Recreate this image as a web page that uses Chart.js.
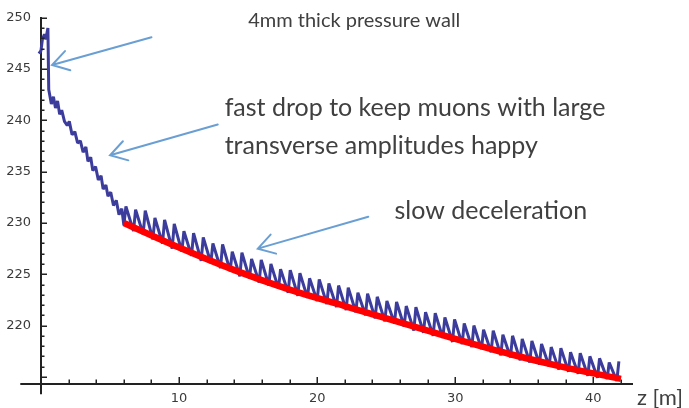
<!DOCTYPE html>
<html lang="en">
<head>
<meta charset="UTF-8" />
<title>Muon deceleration along z</title>
<script src="https://cdn.jsdelivr.net/npm/chart.js"></script>
<style>
  html, body { margin: 0; padding: 0; background: #fff; }
  #wrap { width: 689px; height: 408px; }
</style>
</head>
<body>
<div id="wrap"><canvas id="chart" width="689" height="408"></canvas></div>
<script>
  // simulated momentum (blue, with oscillation)
  const blueZ = [
    -0.8, -0.6, -0.45, -0.3, -0.15, 0.0, 0.1, 0.25, 0.35, 0.5, 0.56,
    0.75, 0.9, 1.05, 1.2, 1.35, 1.5, 1.7, 1.9, 2.05, 2.25, 2.45, 2.65, 2.85,
    3.05, 3.25, 3.4, 3.6, 3.75, 3.95, 4.15, 4.35, 4.5, 4.7, 4.85, 5.05, 5.25,
    5.45, 5.65, 5.85,
    6.0, 6.15, 6.7, 6.85, 7.4, 7.55, 8.1, 8.25, 8.8, 8.95, 9.5, 9.65,
    10.2, 10.35, 10.9, 11.05, 11.6, 11.75, 12.3, 12.45, 13.0, 13.15, 13.7, 13.85,
    14.4, 14.55, 15.1, 15.25, 15.8, 15.95, 16.5, 16.65, 17.2, 17.35, 17.9, 18.05,
    18.6, 18.75, 19.3, 19.45, 20.0, 20.15, 20.7, 20.85, 21.4, 21.55, 22.1, 22.25,
    22.8, 22.95, 23.5, 23.65, 24.2, 24.35, 24.9, 25.05, 25.6, 25.75, 26.3, 26.45,
    27.0, 27.15, 27.7, 27.85, 28.4, 28.55, 29.1, 29.25, 29.8, 29.95, 30.5, 30.65,
    31.2, 31.35, 31.9, 32.05, 32.6, 32.75, 33.3, 33.45, 34.0, 34.15, 34.7, 34.85,
    35.4, 35.55, 36.1, 36.25, 36.8, 36.95, 37.5, 37.65, 38.2, 38.35, 38.9, 39.05,
    39.6, 39.75, 40.3, 40.45, 41.0, 41.15, 41.7, 41.85
  ];
  const blueV = [
    248.3, 247.4, 246.0, 245.6, 246.5, 246.8, 247.9, 248.4, 247.9, 249.0, 243.0,
    241.6, 242.3, 241.2, 241.9, 240.6, 241.0, 239.9, 239.5, 239.9, 238.6, 238.9, 237.8, 238.0,
    236.9, 237.4, 236.0, 236.4, 235.1, 235.5, 234.2, 234.6, 233.3, 233.7, 232.6, 233.0, 231.7,
    232.2, 230.8, 231.4,
    229.8, 231.6, 229.2, 231.3, 228.9, 231.2, 228.4, 230.5, 228.0, 230.3, 227.5, 229.9,
    227.2, 229.2, 226.8, 229.0, 226.3, 228.6, 226.1, 228.0, 225.6, 227.9, 225.3, 227.2,
    224.8, 227.1, 224.6, 226.5, 224.2, 226.4, 223.9, 226.0, 223.6, 225.5, 223.2, 225.4,
    222.9, 225.1, 222.7, 224.6, 222.4, 224.5, 222.1, 224.1, 221.8, 223.9, 221.5, 223.7,
    221.3, 223.2, 221.0, 223.1, 220.7, 222.8, 220.4, 222.4, 220.2, 222.3, 219.9, 221.9,
    219.5, 221.8, 219.3, 221.3, 219.0, 221.2, 218.8, 220.8, 218.4, 220.6, 218.2, 220.2,
    217.9, 220.0, 217.7, 219.6, 217.4, 219.5, 217.1, 219.1, 216.9, 219.0, 216.6, 218.7,
    216.4, 218.5, 216.2, 218.2, 216.0, 217.9, 215.7, 217.8, 215.5, 217.4, 215.3, 217.3,
    215.1, 217.0, 214.9, 216.8, 214.8, 216.4, 214.6, 216.5
  ];

  // slow deceleration fit (red)
  const redZ = [6, 10, 14, 18, 22, 26, 30, 34, 38, 42];
  const redV = [230.0, 227.6, 225.4, 223.5, 221.9, 220.3, 218.7, 217.2, 215.9, 214.8];

  // annotations, in data units
  const noteText = ['4mm thick pressure wall', 'fast drop to keep muons with large',
                    'transverse amplitudes happy', 'slow deceleration'];
  const noteZ = [15.0, 13.3, 13.3, 25.6];
  const noteV = [249.7, 241.2, 237.5, 231.2];
  const noteSize = [20, 25, 25, 25];
  const arrowFromZ = [8.0, 12.8, 23.7];
  const arrowFromV = [248.1, 239.6, 230.6];
  const arrowToZ = [0.8, 5.0, 15.7];
  const arrowToV = [245.4, 236.6, 227.5];

  const axisColor = '#222';
  const textColor = '#404040';

  const notesPlugin = {
    id: 'notes',
    afterDraw(chart) {
      const ctx = chart.ctx;
      const x = chart.scales.x, y = chart.scales.y;
      const x0px = x.getPixelForValue(0), y0px = y.getPixelForValue(214.3);
      ctx.save();

      // axis stubs past the crossing point, and inward tick marks
      ctx.strokeStyle = axisColor;
      ctx.lineWidth = 2;
      ctx.beginPath();
      ctx.moveTo(x.getPixelForValue(-1.5), y0px);
      ctx.lineTo(x0px, y0px);
      ctx.moveTo(x0px, y0px);
      ctx.lineTo(x0px, y.getPixelForValue(213.3));
      ctx.stroke();

      ctx.lineWidth = 1.5;
      ctx.beginPath();
      y.ticks.forEach(t => {
        const py = Math.round(y.getPixelForValue(t.value)) + 0.25;
        ctx.moveTo(x0px, py);
        ctx.lineTo(x0px + (t.value % 5 === 0 ? 6 : 3.5), py);
      });
      x.ticks.forEach(t => {
        if (t.value === 0) return;
        const px = Math.round(x.getPixelForValue(t.value)) + 0.25;
        ctx.moveTo(px, y0px);
        ctx.lineTo(px, y0px - (t.value % 10 === 0 ? 7 : 4.5));
      });
      ctx.stroke();

      // arrows
      ctx.strokeStyle = '#6a9fd4';
      ctx.lineWidth = 2;
      ctx.lineCap = 'round';
      for (let i = 0; i < arrowFromZ.length; i++) {
        const xa = x.getPixelForValue(arrowFromZ[i]), ya = y.getPixelForValue(arrowFromV[i]);
        const xb = x.getPixelForValue(arrowToZ[i]), yb = y.getPixelForValue(arrowToV[i]);
        const ang = Math.atan2(ya - yb, xa - xb);
        ctx.beginPath();
        ctx.moveTo(xa, ya);
        ctx.lineTo(xb, yb);
        ctx.moveTo(xb + 19 * Math.cos(ang - 0.55), yb + 19 * Math.sin(ang - 0.55));
        ctx.lineTo(xb, yb);
        ctx.lineTo(xb + 19 * Math.cos(ang + 0.55), yb + 19 * Math.sin(ang + 0.55));
        ctx.stroke();
      }

      // notes
      ctx.fillStyle = textColor;
      ctx.textAlign = 'left';
      ctx.textBaseline = 'middle';
      noteText.forEach((t, i) => {
        ctx.font = noteSize[i] + 'px Lato';
        ctx.fillText(t, x.getPixelForValue(noteZ[i]), y.getPixelForValue(noteV[i]));
      });

      // axis title
      ctx.font = '22px Lato';
      ctx.fillText('z [m]', chart.chartArea.right + 5, x.top + 14);
      ctx.restore();
    }
  };

  const tickFont = { family: 'DejaVu Sans', size: 13 };

  new Chart(document.getElementById('chart'), {
    type: 'line',
    data: {
      datasets: [
        {
          label: 'fit',
          data: redZ.map((z, i) => ({ x: z, y: redV[i] })),
          borderColor: '#ff0000',
          borderWidth: 6.5,
          cubicInterpolationMode: 'monotone',
          pointRadius: 0,
          fill: false,
          clip: false
        },
        {
          label: 'p',
          data: blueZ.map((z, i) => ({ x: z, y: blueV[i] })),
          borderColor: '#3c3c9c',
          borderWidth: 3,
          borderJoinStyle: 'bevel',
          tension: 0,
          pointRadius: 0,
          fill: false,
          clip: false
        }
      ]
    },
    options: {
      responsive: false,
      animation: false,
      layout: { padding: { top: 15, right: 57, left: 0, bottom: 0 } },
      plugins: { legend: { display: false }, tooltip: { enabled: false } },
      scales: {
        x: {
          type: 'linear',
          position: 'bottom',
          min: 0,
          max: 42.8,
          afterFit: s => { s.height = 24; },
          ticks: {
            stepSize: 2,
            autoSkip: false,
            includeBounds: false,
            maxRotation: 0,
            padding: 7,
            color: '#3a3a3a',
            font: tickFont,
            callback: v => (v > 0 && v % 10 === 0) ? String(v) : ''
          },
          grid: { drawOnChartArea: false, drawTicks: false },
          border: { display: true, color: axisColor, width: 2 }
        },
        y: {
          type: 'linear',
          position: 'left',
          min: 214.3,
          max: 250,
          afterBuildTicks: s => { s.ticks = s.ticks.filter(t => t.value >= 214.9); },
          afterFit: s => { s.width = 41; },
          ticks: {
            stepSize: 1,
            autoSkip: false,
            includeBounds: false,
            padding: 10,
            color: '#3a3a3a',
            font: tickFont,
            callback: v => (v % 5 === 0 && v >= 220) ? String(v) : ''
          },
          grid: { drawOnChartArea: false, drawTicks: false },
          border: { display: true, color: axisColor, width: 2 }
        }
      }
    },
    plugins: [notesPlugin]
  });
</script>
</body>
</html>
